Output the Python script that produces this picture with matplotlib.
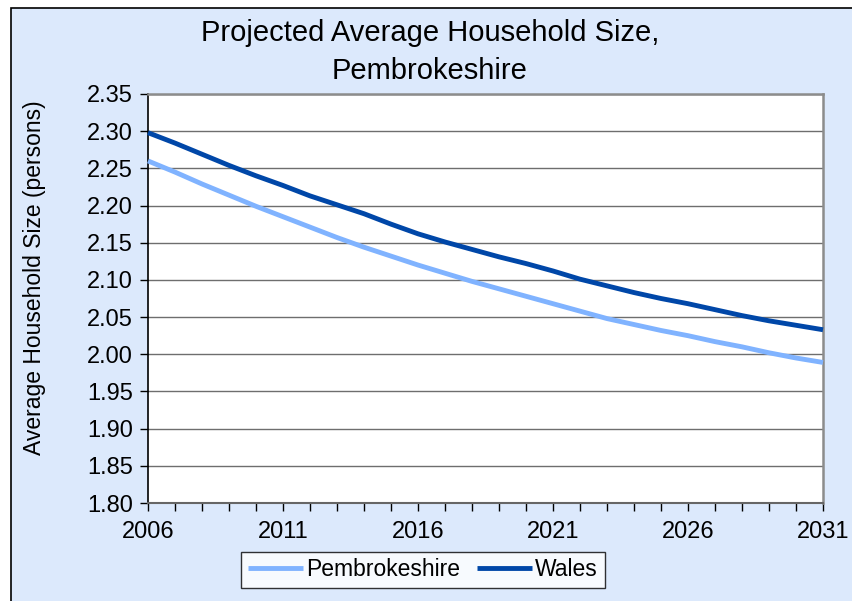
import matplotlib
matplotlib.use("Agg")
import matplotlib.pyplot as plt
from matplotlib.patches import Rectangle
from matplotlib.ticker import FixedLocator

plt.rcParams['font.family'] = ['Liberation Sans', 'DejaVu Sans']

years = list(range(2006, 2032))
pembrokeshire = [2.260, 2.245, 2.229, 2.214, 2.199, 2.185, 2.171, 2.157, 2.144, 2.132,
                 2.120, 2.109, 2.098, 2.088, 2.078, 2.068, 2.058, 2.048, 2.040, 2.032,
                 2.025, 2.017, 2.010, 2.002, 1.995, 1.989]
wales = [2.298, 2.284, 2.269, 2.254, 2.240, 2.227, 2.213, 2.201, 2.189, 2.175,
         2.162, 2.151, 2.141, 2.131, 2.122, 2.112, 2.101, 2.092, 2.083, 2.075,
         2.068, 2.060, 2.052, 2.045, 2.039, 2.033]
xtick_labels = [2006, 2011, 2016, 2021, 2026, 2031]
title = "Projected Average Household Size,\nPembrokeshire"
ylabel = "Average Household Size (persons)"

W, H = 852, 601
fig = plt.figure(figsize=(W/100, H/100), dpi=100, facecolor='white')
bg = '#DCE9FC'
fig.patches.append(Rectangle((11/W, -0.1), 1.1, 1.1 - 8/H, transform=fig.transFigure,
                             facecolor=bg, edgecolor='black', linewidth=1.2, zorder=-10))

ax = fig.add_axes([148/W, (H-503)/H, 675/W, 409/H])
ax.set_facecolor('white')
ax.plot(years, pembrokeshire, color='#80B3FF', linewidth=3.5, label='Pembrokeshire',
        solid_capstyle='butt', clip_on=False, zorder=3)
ax.plot(years, wales, color='#0047A8', linewidth=3.5, label='Wales',
        solid_capstyle='butt', clip_on=False, zorder=4)

ax.set_xlim(2006, 2031)
ax.set_ylim(1.80, 2.35)
ax.set_yticks([1.80 + 0.05*i for i in range(12)])
ax.set_yticklabels([f"{1.80 + 0.05*i:.2f}" for i in range(12)])
ax.set_xticks(xtick_labels)
ax.set_xticklabels([str(y) for y in xtick_labels])
ax.xaxis.set_minor_locator(FixedLocator(years))
ax.tick_params(axis='both', which='both', direction='out', length=6, width=1,
               color='black', labelsize=17, pad=5)
ax.tick_params(axis='x', which='major', pad=7)
ax.grid(axis='y', color='#6E6E6E', linewidth=1)
ax.set_axisbelow(True)

for side in ['top', 'right']:
    ax.spines[side].set_color('#8C8C8C')
    ax.spines[side].set_linewidth(1.8)
ax.spines['left'].set_color('black')
ax.spines['left'].set_linewidth(1.2)
ax.spines['bottom'].set_color('#666666')
ax.spines['bottom'].set_linewidth(1.5)

ax.set_ylabel(ylabel, fontsize=16.5)
ax.yaxis.set_label_coords(-(148-46)/675, (503-278)/409)

fig.text(430/W, 1 - 52/H, title, ha='center', va='center', fontsize=21,
         linespacing=1.45)

leg = fig.legend(loc='center', bbox_to_anchor=(423/W, 1 - 570/H), ncol=2,
                 fontsize=16.5, frameon=True, fancybox=False, edgecolor='black',
                 handlelength=2.4, handletextpad=0.15, columnspacing=0.7,
                 borderpad=0.3, borderaxespad=0)
leg.get_frame().set_linewidth(1)

fig.savefig('out.png', dpi=100, facecolor=fig.get_facecolor())
